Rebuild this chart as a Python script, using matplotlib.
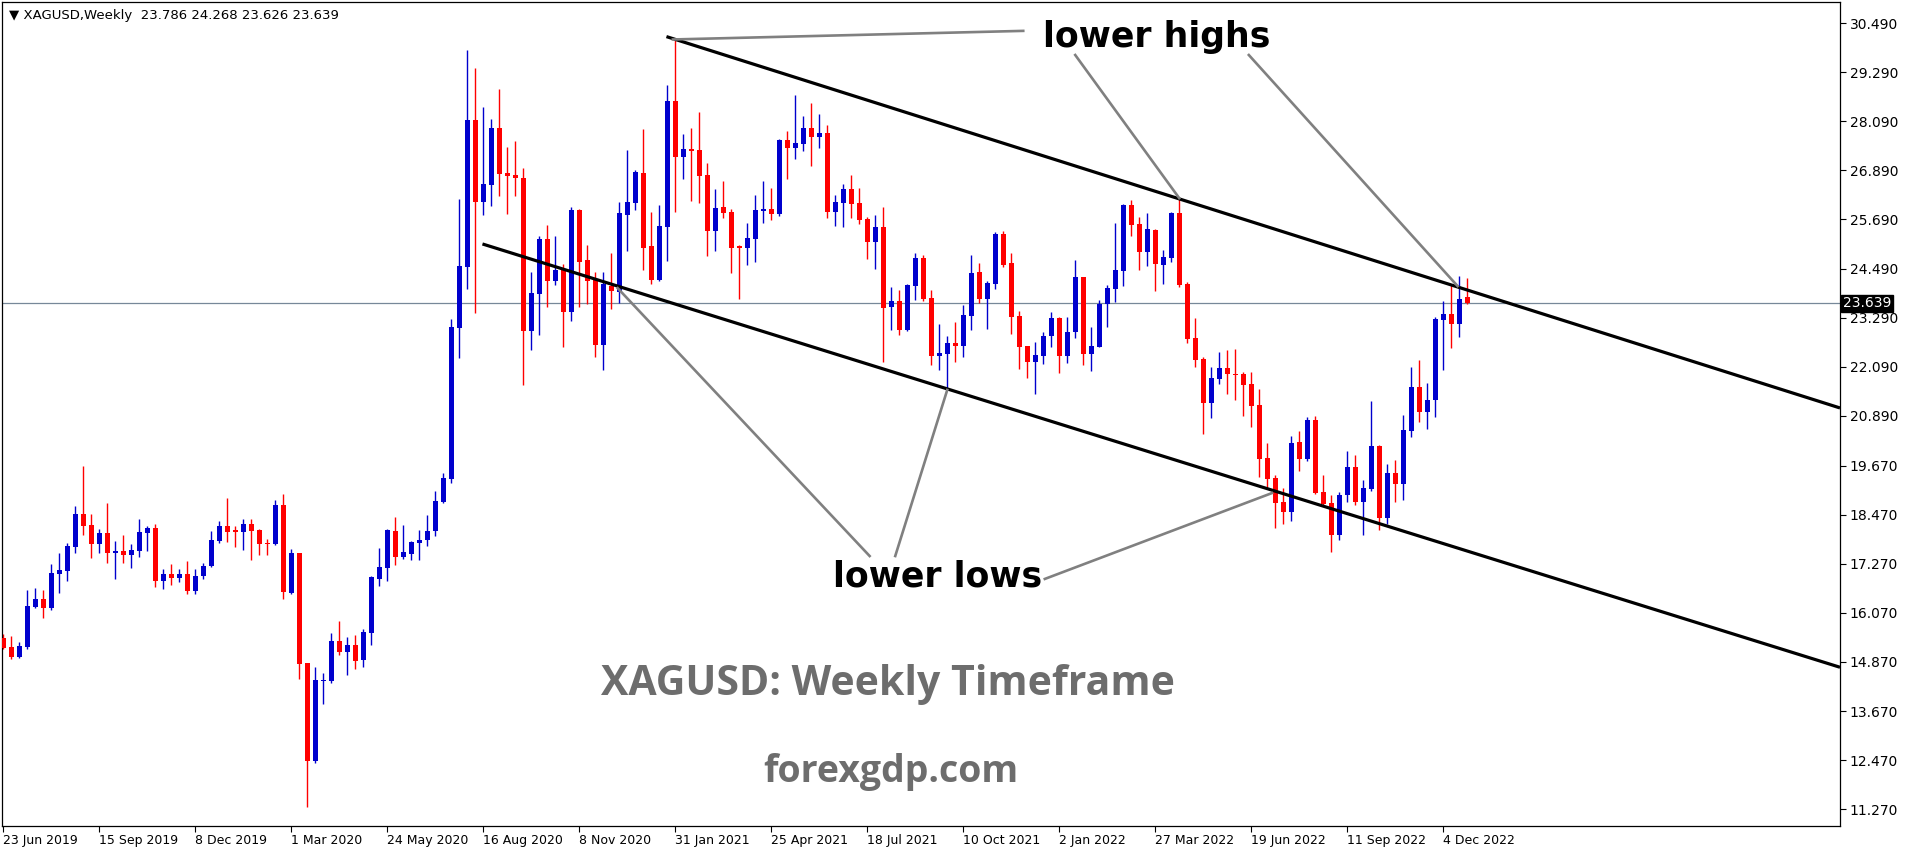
import numpy as np
import matplotlib.pyplot as plt

# weekly XAGUSD candles (23 Jun 2019 .. 25 Dec 2022)
opens = [15.46, 15.24, 14.99, 15.24, 16.21, 16.41, 16.20, 17.02, 17.10, 17.69,
         18.49, 18.22, 17.75, 18.02, 17.53, 17.58, 17.49, 17.58, 18.02, 18.15,
         16.85, 17.02, 16.92, 17.02, 16.61, 16.96, 17.22, 17.83, 18.19, 18.10,
         18.05, 18.24, 18.10, 17.78, 17.75, 18.71, 16.56, 17.53, 14.85, 12.45,
         14.41, 14.41, 15.38, 15.11, 15.29, 14.92, 15.58, 16.90, 17.17, 18.07,
         17.44, 17.52, 17.79, 17.84, 18.06, 18.78, 19.34, 23.04, 24.53, 28.12,
         26.12, 26.53, 27.93, 26.83, 26.78, 26.70, 22.96, 23.87, 25.21, 24.18,
         24.45, 23.43, 25.92, 24.70, 24.21, 22.62, 24.06, 23.92, 25.80, 26.09,
         26.83, 25.04, 24.21, 25.50, 28.59, 27.22, 27.41, 27.39, 26.78, 25.41,
         25.99, 25.87, 25.04, 24.99, 25.21, 25.90, 25.94, 25.82, 27.63, 27.44,
         27.53, 27.93, 27.71, 27.80, 25.87, 26.09, 26.43, 26.09, 25.70, 25.14,
         25.50, 23.55, 23.70, 22.99, 24.06, 24.75, 23.77, 22.35, 22.40, 22.67,
         22.60, 23.33, 24.40, 23.74, 24.11, 25.33, 24.63, 23.33, 22.60, 22.20,
         22.35, 22.84, 23.28, 22.35, 22.94, 24.28, 22.40, 22.57, 23.62, 23.99,
         24.43, 26.04, 25.58, 24.89, 25.43, 24.58, 24.75, 25.85, 24.11, 22.79,
         22.28, 21.20, 21.79, 22.06, 21.91, 21.91, 21.67, 21.15, 19.86, 19.37,
         18.78, 18.54, 20.25, 19.83, 20.79, 19.03, 18.76, 17.97, 18.95, 19.64,
         18.78, 19.10, 20.15, 18.39, 19.49, 19.22, 20.52, 21.59, 20.98, 21.28,
         23.23, 23.38, 23.13, 23.786]
highs = [15.55, 15.51, 15.36, 16.63, 16.68, 16.63, 17.27, 17.53, 17.78, 18.68,
         19.66, 18.49, 18.12, 18.76, 17.83, 17.97, 17.75, 18.37, 18.19, 18.24,
         17.14, 17.27, 17.14, 17.34, 17.14, 17.29, 18.07, 18.32, 18.88, 18.19,
         18.37, 18.37, 18.12, 17.88, 18.83, 18.98, 17.63, 17.53, 14.85, 14.75,
         14.60, 15.58, 15.87, 15.48, 15.53, 15.68, 16.97, 17.66, 18.12, 18.41,
         18.22, 17.83, 18.10, 18.46, 19.05, 19.49, 23.26, 26.19, 29.83, 29.39,
         28.44, 28.15, 28.88, 27.46, 27.61, 26.95, 24.40, 25.28, 25.55, 25.28,
         24.60, 25.99, 25.94, 25.06, 24.40, 24.40, 24.87, 26.12, 27.39, 26.90,
         27.90, 25.87, 26.04, 28.98, 30.08, 27.78, 27.93, 28.32, 27.07, 26.43,
         26.63, 25.94, 25.06, 25.60, 26.29, 26.63, 26.46, 27.66, 27.85, 28.73,
         28.22, 28.54, 28.27, 28.00, 26.29, 26.56, 26.78, 26.46, 25.75, 25.80,
         25.99, 24.04, 23.96, 24.11, 24.87, 24.82, 23.96, 23.13, 22.84, 23.18,
         23.60, 24.82, 24.62, 24.18, 25.38, 25.41, 24.87, 23.45, 22.60, 22.69,
         22.94, 23.43, 23.30, 23.30, 24.70, 24.28, 23.06, 23.72, 24.09, 25.60,
         26.07, 26.17, 25.75, 25.85, 25.46, 24.94, 25.87, 26.19, 24.16, 23.28,
         22.33, 22.08, 22.45, 22.50, 22.52, 21.96, 21.96, 21.54, 20.22, 19.44,
         19.12, 20.40, 20.52, 20.86, 20.88, 19.44, 18.95, 19.03, 20.03, 19.93,
         19.32, 21.25, 20.18, 19.71, 19.81, 20.91, 22.08, 22.25, 21.69, 23.30,
         23.70, 24.11, 24.31, 24.268]
lows = [15.18, 14.93, 14.97, 15.19, 16.19, 15.95, 16.14, 16.56, 16.85, 17.53,
        17.97, 17.41, 17.53, 17.29, 16.90, 17.29, 17.17, 17.44, 17.58, 16.70,
        16.65, 16.75, 16.83, 16.53, 16.53, 16.91, 17.19, 17.78, 17.80, 17.68,
        17.61, 17.36, 17.49, 17.49, 17.73, 16.41, 16.53, 14.45, 11.32, 12.40,
        13.84, 14.36, 15.04, 14.55, 14.70, 14.75, 15.29, 16.73, 16.85, 17.24,
        17.39, 17.36, 17.36, 17.71, 17.95, 18.76, 19.25, 22.30, 23.99, 23.40,
        25.80, 26.02, 26.26, 25.82, 26.26, 21.64, 22.50, 22.86, 23.55, 24.09,
        22.57, 23.21, 23.55, 23.62, 22.33, 22.01, 23.50, 23.65, 24.92, 25.92,
        24.45, 24.11, 24.18, 24.67, 25.87, 26.68, 26.14, 26.09, 24.80, 24.92,
        25.72, 24.38, 23.74, 24.58, 24.65, 25.60, 25.68, 25.77, 26.68, 27.17,
        27.36, 27.00, 27.44, 25.72, 25.53, 25.50, 25.72, 25.58, 24.72, 24.48,
        22.20, 22.99, 22.86, 22.96, 23.72, 23.70, 22.13, 22.01, 21.54, 22.20,
        22.33, 22.99, 23.65, 23.01, 23.99, 24.53, 22.89, 22.03, 21.81, 21.42,
        22.16, 22.57, 21.94, 22.18, 22.79, 22.13, 21.98, 22.57, 23.06, 23.67,
        24.06, 25.29, 24.45, 24.55, 23.94, 24.11, 24.65, 24.04, 22.67, 22.08,
        20.44, 20.84, 21.67, 21.42, 21.28, 20.88, 20.62, 19.39, 19.10, 18.15,
        18.24, 18.32, 19.54, 19.78, 18.98, 18.71, 17.56, 17.85, 18.78, 18.71,
        17.97, 19.05, 18.10, 18.24, 18.78, 18.83, 20.37, 20.74, 20.57, 20.86,
        22.01, 22.55, 22.82, 23.626]
closes = [15.21, 15.00, 15.26, 16.24, 16.41, 16.20, 17.05, 17.12, 17.71, 18.49,
          18.20, 17.76, 18.02, 17.53, 17.58, 17.49, 17.61, 18.05, 18.15, 16.85,
          17.02, 16.92, 17.02, 16.61, 16.97, 17.22, 17.85, 18.19, 18.05, 18.05,
          18.24, 18.07, 17.75, 17.75, 18.71, 16.58, 17.53, 14.83, 12.45, 14.43,
          14.43, 15.38, 15.11, 15.29, 14.89, 15.60, 16.95, 17.19, 18.10, 17.44,
          17.56, 17.80, 17.85, 18.07, 18.81, 19.37, 23.06, 24.55, 28.12, 26.12,
          26.56, 27.93, 26.80, 26.75, 26.70, 22.96, 23.89, 25.21, 24.18, 24.45,
          23.43, 25.92, 24.65, 24.18, 22.62, 24.11, 23.94, 25.85, 26.12, 26.85,
          24.99, 24.21, 25.53, 28.59, 27.22, 27.41, 27.36, 26.75, 25.41, 25.97,
          25.85, 24.99, 24.99, 25.24, 25.92, 25.94, 25.82, 27.63, 27.44, 27.56,
          27.93, 27.71, 27.80, 25.87, 26.12, 26.43, 26.07, 25.68, 25.14, 25.50,
          23.52, 23.70, 22.99, 24.09, 24.75, 23.74, 22.35, 22.42, 22.67, 22.60,
          23.35, 24.38, 23.74, 24.14, 25.33, 24.58, 23.30, 22.57, 22.20, 22.38,
          22.84, 23.28, 22.35, 22.94, 24.28, 22.40, 22.60, 23.62, 24.01, 24.45,
          26.04, 25.55, 24.89, 25.46, 24.60, 24.77, 25.85, 24.09, 22.77, 22.25,
          21.20, 21.81, 22.06, 21.91, 21.89, 21.64, 21.13, 19.83, 19.34, 18.76,
          18.54, 20.22, 19.83, 20.79, 19.00, 18.73, 17.97, 18.95, 19.64, 18.78,
          19.12, 20.15, 18.39, 19.49, 19.22, 20.54, 21.59, 20.98, 21.28, 23.26,
          23.38, 23.13, 23.75, 23.639]

# every 12th week gets a date label
date_labels = ['23 Jun 2019', '15 Sep 2019', '8 Dec 2019', '1 Mar 2020',
               '24 May 2020', '16 Aug 2020', '8 Nov 2020', '31 Jan 2021',
               '25 Apr 2021', '18 Jul 2021', '10 Oct 2021', '2 Jan 2022',
               '27 Mar 2022', '19 Jun 2022', '11 Sep 2022', '4 Dec 2022']
price_ticks = [11.27, 12.47, 13.67, 14.87, 16.07, 17.27, 18.47, 19.67,
               20.89, 22.09, 23.29, 24.49, 25.69, 26.89, 28.09, 29.29, 30.49]
last_price = 23.639

# channel lines, (bar index, price) at both ends
upper_x, upper_y = [82.9, 229.6], [30.16, 21.08]
lower_x, lower_y = [59.9, 229.6], [25.09, 14.74]

# grey pointer lines from the labels
highs_pointers = [([83.7, 127.5], [30.09, 30.30]),
                  ([134.0, 147.0], [29.71, 26.21]),
                  ([155.7, 181.8], [29.71, 24.06])]
lows_pointers = [([76.8, 108.3], [24.01, 17.46]),
                 ([111.5, 118.0], [17.46, 21.52]),
                 ([130.2, 158.6], [16.90, 19.00])]

bull = '#0000cd'
bear = '#ff0000'

fig = plt.figure(figsize=(19.16, 8.5), dpi=100)
ax = fig.add_axes([2 / 1916, 24 / 850, 1838 / 1916, 824 / 850])

o = np.array(opens)
h = np.array(highs)
l = np.array(lows)
c = np.array(closes)
x = np.arange(len(o))
colors = np.where(c >= o, bull, bear)

# wicks then bodies
ax.vlines(x, l, h, colors=colors, lw=1.0, zorder=2)
body_low = np.minimum(o, c)
body_h = np.maximum(np.abs(c - o), 0.03)
ax.bar(x, body_h, bottom=body_low, width=0.625, color=colors, linewidth=0, zorder=3)

# current price line
ax.axhline(last_price, color='#778899', lw=0.9, zorder=1)

# channel
ax.plot(upper_x, upper_y, color='black', lw=2.3, zorder=4, solid_capstyle='butt')
ax.plot(lower_x, lower_y, color='black', lw=2.3, zorder=4, solid_capstyle='butt')

for px, py in highs_pointers + lows_pointers:
    ax.plot(px, py, color='#808080', lw=1.9, zorder=5)

ax.text(144.2, 30.16, 'lower highs', fontsize=25, fontweight='bold',
        family='DejaVu Sans', ha='center', va='center', zorder=6)
ax.text(116.75, 16.95, 'lower lows', fontsize=25, fontweight='bold',
        family='DejaVu Sans', ha='center', va='center', zorder=6)
ax.text(110.6, 14.32, 'XAGUSD: Weekly Timeframe', fontsize=29.5, fontweight='bold',
        family='Open Sans', color='#6d6d6d', ha='center', va='center')
ax.text(110.9, 12.17, 'forexgdp.com', fontsize=27, fontweight='bold',
        family='Open Sans', color='#6d6d6d', ha='center', va='center')

# header
ax.text(0.004, 0.992, '\u25bc XAGUSD,Weekly  23.786 24.268 23.626 23.639',
        transform=ax.transAxes, fontsize=9.5, ha='left', va='top')

ax.set_xlim(-0.16, 229.6)
ax.set_ylim(10.859, 31.006)

ax.set_xticks(np.arange(0, len(date_labels) * 12, 12))
ax.set_xticklabels(date_labels, fontsize=9)
for lbl in ax.get_xticklabels():
    lbl.set_ha('left')
ax.tick_params(axis='x', direction='out', length=4, width=0.8, pad=2)

ax.yaxis.tick_right()
ax.set_yticks(price_ticks)
ax.set_yticklabels([f'{v:.3f}' for v in price_ticks], fontsize=10)
ax.tick_params(axis='y', direction='out', length=4, width=0.8, pad=3)

# black price tag on the axis
ax.text(1.0015, last_price, f'{last_price:.3f}', transform=ax.get_yaxis_transform(),
        fontsize=10, color='white', ha='left', va='center',
        bbox=dict(boxstyle='square,pad=0.12', fc='black', ec='black'))

for s in ax.spines.values():
    s.set_linewidth(0.9)

fig.savefig('out.png', dpi=100)
